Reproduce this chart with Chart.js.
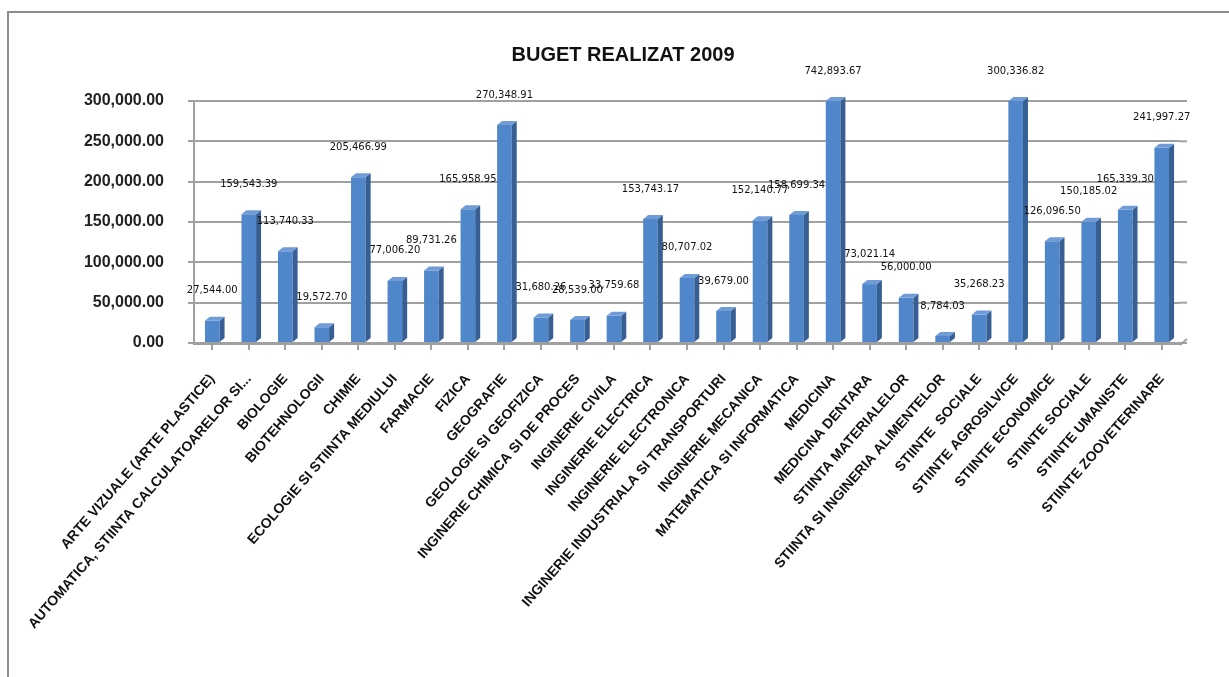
<!DOCTYPE html>
<html>
<head>
<meta charset="utf-8">
<script src="https://cdn.jsdelivr.net/npm/chart.js@4.4.1/dist/chart.umd.min.js"></script>
<style>
    html, body { margin: 0; padding: 0; background: #fff; }
    #wrap { width: 1229px; height: 677px; position: relative; }
</style>
</head>
<body>
<div id="wrap"><canvas id="budgetChart"></canvas></div>
<script>
var chartTitle = 'BUGET REALIZAT 2009';

var categories = [
    'ARTE VIZUALE (ARTE PLASTICE)',
    'AUTOMATICA, STIINTA CALCULATOARELOR SI...',
    'BIOLOGIE',
    'BIOTEHNOLOGII',
    'CHIMIE',
    'ECOLOGIE SI STIINTA MEDIULUI',
    'FARMACIE',
    'FIZICA',
    'GEOGRAFIE',
    'GEOLOGIE SI GEOFIZICA',
    'INGINERIE CHIMICA SI DE PROCES',
    'INGINERIE CIVILA',
    'INGINERIE ELECTRICA',
    'INGINERIE ELECTRONICA',
    'INGINERIE INDUSTRIALA SI TRANSPORTURI',
    'INGINERIE MECANICA',
    'MATEMATICA SI INFORMATICA',
    'MEDICINA',
    'MEDICINA DENTARA',
    'STIINTA MATERIALELOR',
    'STIINTA SI INGINERIA ALIMENTELOR',
    'STIINTE  SOCIALE',
    'STIINTE AGROSILVICE',
    'STIINTE ECONOMICE',
    'STIINTE SOCIALE',
    'STIINTE UMANISTE',
    'STIINTE ZOOVETERINARE'
];

var budget = [
    27544.00, 159543.39, 113740.33, 19572.70, 205466.99, 77006.20, 89731.26,
    165958.95, 270348.91, 31680.26, 28539.00, 33759.68, 153743.17, 80707.02,
    39679.00, 152140.77, 158699.34, 742893.67, 73021.14, 56000.00, 8784.03,
    35268.23, 300336.82, 126096.50, 150185.02, 165339.30, 241997.27
];

var yMin = 0;
var yMax = 300000;
var yStep = 50000;

function fmt(v) {
    return v.toLocaleString('en-US', { minimumFractionDigits: 2, maximumFractionDigits: 2 });
}

// grey frame round the chart object (left and top edges are visible)
var framePlugin = {
    id: 'frame',
    beforeDraw: function (chart) {
        var c = chart.ctx;
        c.save();
        c.fillStyle = '#fff';
        c.fillRect(0, 0, chart.width, chart.height);
        c.strokeStyle = '#8c8c8c';
        c.lineWidth = 2;
        c.beginPath();
        c.moveTo(8, chart.height);
        c.lineTo(8, 12);
        c.lineTo(chart.width, 12);
        c.stroke();
        c.restore();
    }
};

// little back-wall stubs on the gridlines, like the 3D wall in the original
var wallPlugin = {
    id: 'wall3d',
    beforeDatasetsDraw: function (chart) {
        var c = chart.ctx;
        var area = chart.chartArea;
        var yScale = chart.scales.y;
        c.save();
        c.strokeStyle = '#a0a0a0';
        c.lineWidth = 2;
        yScale.ticks.forEach(function (t) {
            var y = yScale.getPixelForValue(t.value);
            c.beginPath();
            c.moveTo(area.right, y);
            c.lineTo(area.right + 7, y);
            c.stroke();
        });
        c.beginPath();
        c.moveTo(area.right, area.bottom + 2);
        c.lineTo(area.right + 7, area.bottom - 4);
        c.stroke();
        c.restore();
    }
};

// side + top faces for the column look, then the value labels
var columnPlugin = {
    id: 'columns3d',
    afterDatasetsDraw: function (chart) {
        var c = chart.ctx;
        var area = chart.chartArea;
        var meta = chart.getDatasetMeta(0);
        var dx = 5, dy = 4;
        c.save();
        meta.data.forEach(function (bar, i) {
            var p = bar.getProps(['x', 'y', 'base', 'width'], true);
            var left = p.x - p.width / 2;
            var right = p.x + p.width / 2;
            var top = Math.max(p.y, area.top);
            var bottom = p.base;

            c.fillStyle = '#375f93';
            c.beginPath();
            c.moveTo(right, top);
            c.lineTo(right + dx, top - dy);
            c.lineTo(right + dx, bottom - dy);
            c.lineTo(right, bottom);
            c.closePath();
            c.fill();

            c.fillStyle = '#6f9bd6';
            c.beginPath();
            c.moveTo(left, top);
            c.lineTo(left + dx, top - dy);
            c.lineTo(right + dx, top - dy);
            c.lineTo(right, top);
            c.closePath();
            c.fill();

            c.fillStyle = '#111';
            c.font = '10px "DejaVu Sans"';
            c.textAlign = 'center';
            c.textBaseline = 'middle';
            c.fillText(fmt(budget[i]), p.x, top - 30);
        });
        c.restore();
    }
};

var ctx = document.getElementById('budgetChart').getContext('2d');
var chart = new Chart(ctx, {
    type: 'bar',
    data: {
        labels: categories,
        datasets: [{
            label: chartTitle,
            data: budget,
            backgroundColor: '#5087ca',
            borderWidth: 0,
            categoryPercentage: 1,
            barPercentage: 0.4
        }]
    },
    options: {
        responsive: true,
        maintainAspectRatio: false,
        animation: false,
        layout: {
            padding: { left: 66, right: 49, top: 0, bottom: 0 }
        },
        scales: {
            x: {
                grid: {
                    display: true,
                    drawOnChartArea: false,
                    color: '#a0a0a0',
                    lineWidth: 2,
                    tickLength: 7,
                    offset: false
                },
                border: { display: true, color: '#a0a0a0', width: 3 },
                ticks: {
                    autoSkip: false,
                    minRotation: 49,
                    maxRotation: 49,
                    padding: 21,
                    color: '#111',
                    font: { family: '"Liberation Sans", Arial, sans-serif', size: 14, weight: 'bold' }
                },
                afterFit: function (scale) { scale.height = 334; }
            },
            y: {
                min: yMin,
                max: yMax,
                grid: {
                    color: '#a0a0a0',
                    lineWidth: 2,
                    tickLength: 6
                },
                border: { display: true, color: '#a0a0a0', width: 2 },
                ticks: {
                    stepSize: yStep,
                    padding: 24,
                    color: '#222',
                    font: { family: '"Liberation Sans", Arial, sans-serif', size: 16, weight: 'bold' },
                    callback: function (v) { return fmt(v); }
                },
                afterFit: function (scale) { scale.width = 128; }
            }
        },
        plugins: {
            legend: { display: false },
            tooltip: { enabled: false },
            title: {
                display: true,
                text: chartTitle,
                color: '#111',
                font: { family: '"Liberation Sans", Arial, sans-serif', size: 20, weight: 'bold', lineHeight: 1.2 },
                padding: { top: 43, bottom: 34 }
            }
        }
    },
    plugins: [framePlugin, wallPlugin, columnPlugin]
});
</script>
</body>
</html>
